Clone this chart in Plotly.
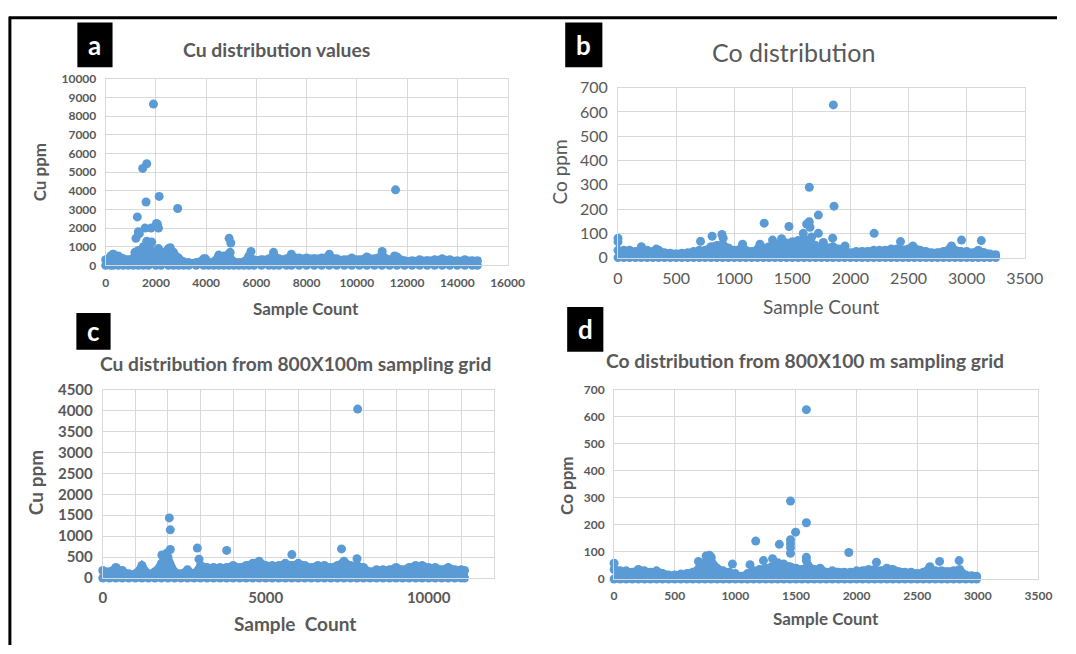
import plotly.graph_objects as go

W, H = 1076, 654
BLUE = "#5b9bd5"
GRID = "#d9d9d9"
TXT = "#595959"
FONT = "Lato"

# ---------------- Panel a: Cu distribution values ----------------
a_band_x = [0, 200, 300, 500, 700, 900, 1100, 1300, 1500, 1700, 2000, 2200, 2500, 2700, 2900,
            3100, 3300, 3600, 3900, 4100, 4300, 4500, 4700, 4900, 5100, 5300, 5500, 5700, 5900,
            6200, 6500, 6700, 6900, 7200, 7400, 7700, 8000, 8300, 8600, 8900, 9200, 9500, 9800,
            10100, 10400, 10700, 11000, 11300, 11600, 11900, 12200, 12500, 12800, 13100, 13400,
            13700, 14000, 14300, 14600, 14800]
a_band_top = [300, 500, 600, 500, 350, 300, 400, 800, 1000, 900, 700, 600, 900, 700, 400,
              200, 150, 150, 350, 150, 200, 550, 500, 600, 200, 150, 200, 500, 300,
              300, 350, 550, 350, 350, 500, 400, 400, 350, 400, 500, 350, 300, 400,
              300, 450, 350, 550, 300, 450, 250, 250, 300, 250, 300, 350,
              300, 250, 300, 250, 250]
a_out_x = [1901, 1473, 1634, 1607, 2129, 2865, 1259, 11542, 1299, 1339, 1205, 1567, 1807, 2022,
           2102, 2062, 1634, 1834, 1767, 2102, 2571, 1165, 4914, 4981, 4954, 5784, 6682, 7392,
           8905, 11007, 11502, 295, 1500, 3977]
a_out_y = [8650, 5200, 5450, 3400, 3700, 3050, 2600, 4050, 1800, 1700, 1450, 2000, 2000, 2250,
           2000, 2200, 1300, 1250, 1100, 900, 950, 700, 1450, 1200, 700, 750, 700, 600,
           600, 750, 500, 600, 500, 350]

# ---------------- Panel b: Co distribution ----------------
b_band_x = list(range(0, 3251, 50))
b_band_top = [30, 30, 30, 25, 35, 30, 25, 30, 20, 18, 15, 18, 20, 25, 30, 30, 45, 50, 55, 40,
              30, 35, 30, 25, 35, 40, 45, 55, 60, 60, 65, 70, 75, 70, 50, 40, 40, 45, 35, 30,
              20, 25, 25, 25, 30, 30, 30, 35, 35, 30, 35, 40, 30, 25, 20, 20, 25, 35, 30, 25,
              25, 20, 30, 20, 15, 12]
b_out_x = [1853, 1646, 1859, 1724, 1258, 1471, 1623, 1646, 1652, 1724, 2204, 2431, 2537, 2870,
           2956, 3126, 710, 810, 894, 905, 1072, 1221, 1330, 1408, 1767, 1847, 1954, 0, 0,
           201, 330, 1594, 1666]
b_out_y = [629, 290, 212, 175, 142, 128, 138, 148, 125, 100, 100, 66, 48, 48,
           72, 70, 67, 88, 95, 80, 55, 55, 72, 78, 62, 80, 48, 80, 65,
           45, 35, 100, 85]

# ---------------- Panel c: Cu 800X100m grid ----------------
c_band_x = list(range(0, 11001, 200)) + [11100]
c_band_top = [180, 150, 250, 180, 100, 100, 300, 100, 150, 350, 500, 150, 100, 200, 100,
              300, 250, 250, 250, 250, 300, 250, 300, 350, 400, 300, 300, 300, 350, 300,
              350, 300, 250, 300, 300, 250, 300, 400, 300, 300, 250, 150, 200, 200, 200,
              250, 200, 250, 300, 300, 250, 250, 200, 250, 200, 200, 180]
c_out_x = [7821, 2041, 2072, 2901, 2953, 3802, 5802, 7325, 7801, 2072, 1968, 1813]
c_out_y = [4035, 1435, 1150, 715, 450, 660, 560, 695, 460, 680, 600, 550]

# ---------------- Panel d: Co 800X100 m grid ----------------
d_band_x = list(range(0, 2951, 50)) + [2990]
d_band_top = [35, 30, 30, 25, 35, 30, 25, 30, 20, 15, 15, 18, 20, 25, 40, 60, 70, 40, 30, 25,
              20, 10, 20, 30, 35, 40, 45, 60, 55, 45, 40, 35, 50, 35, 40, 25, 30, 25, 25, 25,
              30, 30, 35, 35, 30, 40, 35, 25, 25, 25, 20, 25, 40, 30, 30, 25, 30, 35, 15, 12, 10]
d_out_x = [1586, 1455, 1586, 1497, 1168, 1363, 1455, 1455, 1455, 1455, 1936, 1232, 1307, 696,
           787, 759, 801, 976, 1121, 2164, 2685, 2846, 2605, 1586, 1586, 0]
d_out_y = [626, 288, 208, 173, 140, 128, 145, 130, 115, 95, 98, 68, 75, 65,
           88, 85, 80, 55, 53, 62, 65, 68, 45, 80, 68, 58]

fig = go.Figure()

def px_x(p):
    return p / W

def px_y(p):
    return 1 - p / H

panels = [
    dict(n="", bx=a_band_x, bt=a_band_top, ox=a_out_x, oy=a_out_y, xd=(103, 514), yd=(71, 263),
         xr=16000, xt=2000, yr=10000, yt=1000, ms=9, tf=dict(family=FONT, size=12, color=TXT, weight="bold")),
    dict(n="2", bx=b_band_x, bt=b_band_top, ox=b_out_x, oy=b_out_y, xd=(627, 1043), yd=(80, 255),
         xr=3500, xt=500, yr=700, yt=100, ms=9, tf=dict(family=FONT, size=16, color=TXT)),
    dict(n="3", bx=c_band_x, bt=c_band_top, ox=c_out_x, oy=c_out_y, xd=(100, 500), yd=(391, 585),
         xr=12000, xt=5000, yr=4500, yt=500, ms=9, tf=dict(family=FONT, size=15, color=TXT, weight="bold")),
    dict(n="4", bx=d_band_x, bt=d_band_top, ox=d_out_x, oy=d_out_y, xd=(623, 1057), yd=(391, 586),
         xr=3500, xt=500, yr=700, yt=100, ms=9, tf=dict(family=FONT, size=12, color=TXT, weight="bold")),
]

layout_axes = {}
for p in panels:
    xa = "x" + p["n"]
    ya = "y" + p["n"]
    low = [0 for _ in p["bx"]]
    # dense band of overlapping samples
    fig.add_trace(go.Scatter(
        x=p["bx"] + p["bx"][::-1], y=p["bt"] + low[::-1], mode="lines", fill="toself",
        fillcolor=BLUE, line=dict(color=BLUE, width=p["ms"] - 2), xaxis=xa, yaxis=ya,
        hoverinfo="skip", showlegend=False))
    fig.add_trace(go.Scatter(
        x=p["bx"], y=p["bt"], mode="markers", marker=dict(color=BLUE, size=p["ms"]),
        xaxis=xa, yaxis=ya, cliponaxis=False, showlegend=False))
    fig.add_trace(go.Scatter(
        x=p["bx"], y=low, mode="markers", marker=dict(color=BLUE, size=p["ms"]),
        xaxis=xa, yaxis=ya, cliponaxis=False, showlegend=False))
    # individual high samples
    fig.add_trace(go.Scatter(
        x=p["ox"], y=p["oy"], mode="markers", marker=dict(color=BLUE, size=p["ms"]),
        xaxis=xa, yaxis=ya, cliponaxis=False, showlegend=False))
    xkey = "xaxis" + p["n"]
    ykey = "yaxis" + p["n"]
    xaxis = dict(domain=[px_x(p["xd"][0]), px_x(p["xd"][1])], range=[0, p["xr"]], dtick=p["xt"],
                 tick0=0, tickformat="d", showgrid=True, gridcolor=GRID, gridwidth=1, zeroline=False,
                 showline=True, mirror=True, linecolor=GRID, ticks="", tickfont=p["tf"],
                 anchor=ya, fixedrange=True, ticklabelstandoff=6)
    if p["n"] == "3":
        xaxis["minor"] = dict(dtick=1000, tick0=0, showgrid=True, gridcolor=GRID, gridwidth=1)
    yaxis = dict(domain=[px_y(p["yd"][1]), px_y(p["yd"][0])], range=[0, p["yr"]], dtick=p["yt"],
                 tick0=0, tickformat="d", showgrid=True, gridcolor=GRID, gridwidth=1, zeroline=False,
                 showline=True, mirror=True, linecolor=GRID, ticks="", tickfont=p["tf"],
                 anchor=xa, fixedrange=True, ticklabelstandoff=6)
    layout_axes[xkey] = xaxis
    layout_axes[ykey] = yaxis

fig.update_layout(**layout_axes)

ann = []

def text(x, y, s, size, bold=True, angle=0, color=TXT):
    ann.append(dict(x=px_x(x), y=px_y(y), xref="paper", yref="paper", text=s, showarrow=False,
                    xanchor="center", yanchor="middle", textangle=angle,
                    font=dict(family=FONT, size=size, color=color,
                              weight="bold" if bold else "normal")))

# titles
text(278, 41, "Cu distribution values", 19.4)
text(806, 43, "Co distribution", 25, bold=False)
text(297, 364, "Cu distribution from 800X100m sampling grid", 19.2)
text(818, 361, "Co distribution from 800X100 m sampling grid", 19.3)
# axis titles
text(308, 307, "Sample Count", 17)
text(35, 167, "Cu ppm", 17, angle=-90)
text(835, 305, "Sample Count", 19, bold=False)
text(567, 167, "Co ppm", 19, bold=False, angle=-90)
text(297, 632, "Sample  Count", 19)
text(32, 487, "Cu ppm", 19, angle=-90)
text(840, 627, "Sample Count", 17)
text(575, 490, "Co ppm", 17, angle=-90)

shapes = []
boxes = [("a", 74, 110, 13, 59), ("b", 573, 611, 13, 59), ("c", 73, 108, 312, 350), ("d", 575, 612, 306, 352)]
for lab, x0, x1, y0, y1 in boxes:
    shapes.append(dict(type="rect", xref="paper", yref="paper", x0=px_x(x0), x1=px_x(x1),
                       y0=px_y(y1), y1=px_y(y0), fillcolor="black", line=dict(width=0)))
    text((x0 + x1) / 2, (y0 + y1) / 2, lab, 26, color="white")

# outer frame (left and top edges)
shapes.append(dict(type="line", xref="paper", yref="paper", x0=px_x(5), x1=px_x(5), y0=0, y1=px_y(7),
                   line=dict(color="black", width=3)))
shapes.append(dict(type="line", xref="paper", yref="paper", x0=px_x(4), x1=1, y0=px_y(8), y1=px_y(8),
                   line=dict(color="black", width=3)))

fig.update_layout(width=W, height=H, margin=dict(l=0, r=0, t=0, b=0, pad=0),
                  paper_bgcolor="white", plot_bgcolor="white", showlegend=False,
                  annotations=ann, shapes=shapes, font=dict(family=FONT, color=TXT))

fig.write_html("out.html", include_plotlyjs=True, config={"displayModeBar": False})
